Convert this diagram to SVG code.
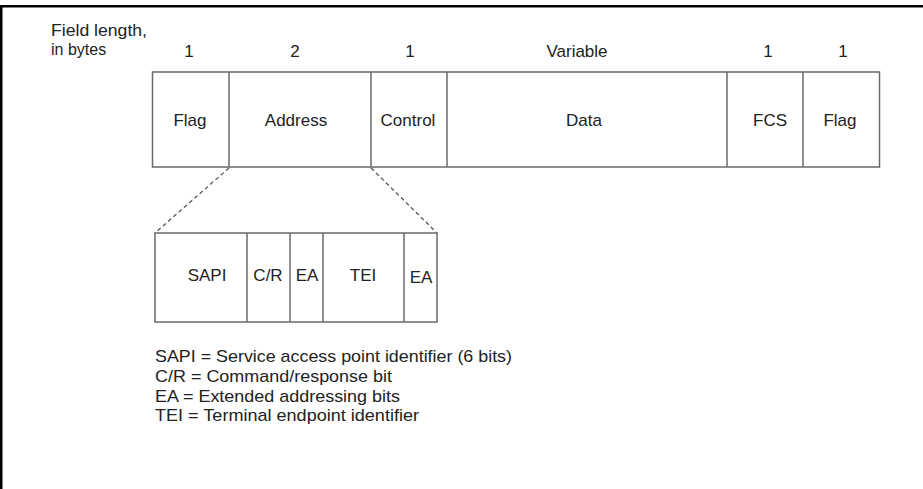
<svg xmlns="http://www.w3.org/2000/svg" width="923" height="489" viewBox="0 0 923 489">
<style>
text{font-family:"Liberation Sans",Arial,sans-serif;font-size:17px;fill:#222}
.c{text-anchor:middle}
.hd{font-size:16px}
.box{fill:#fff;stroke:#6a6a6a;stroke-width:1.5}
.div{stroke:#6a6a6a;stroke-width:1.5}
.dash{stroke:#555;stroke-width:1.3;stroke-dasharray:4 3;fill:none}
</style>
<rect width="923" height="489" fill="#fff"/>
<path d="M1.2 489V6.2H923" fill="none" stroke="#000" stroke-width="2.6"/>
<g id="header">
<text class="hd" x="51" y="36" textLength="96" lengthAdjust="spacingAndGlyphs">Field length,</text>
<text class="hd" x="51" y="55">in bytes</text>
<text class="c" x="189" y="57">1</text>
<text class="c" x="295" y="57">2</text>
<text class="c" x="410" y="57">1</text>
<text class="c" x="577" y="57">Variable</text>
<text class="c" x="768" y="57">1</text>
<text class="c" x="843" y="57">1</text>
</g>
<g id="frame">
<rect class="box" x="152.5" y="72" width="727" height="95"/>
<g id="flag1"><text class="c" x="190" y="126">Flag</text></g>
<g id="address"><line class="div" x1="229" y1="72" x2="229" y2="167"/><text class="c" x="296" y="126">Address</text></g>
<g id="control"><line class="div" x1="371" y1="72" x2="371" y2="167"/><text class="c" x="408" y="126">Control</text></g>
<g id="data"><line class="div" x1="447" y1="72" x2="447" y2="167"/><text class="c" x="584" y="126">Data</text></g>
<g id="fcs"><line class="div" x1="727" y1="72" x2="727" y2="167"/><text class="c" x="770" y="126">FCS</text></g>
<g id="flag2"><line class="div" x1="803" y1="72" x2="803" y2="167"/><text class="c" x="840" y="126">Flag</text></g>
</g>
<g id="connectors">
<line class="dash" x1="229" y1="168" x2="155" y2="233"/>
<line class="dash" x1="371" y1="168" x2="437" y2="233"/>
</g>
<g id="addressfield">
<rect class="box" x="155" y="233" width="282" height="89"/>
<g id="sapi"><text class="c" x="207" y="281">SAPI</text></g>
<g id="cr"><line class="div" x1="247" y1="233" x2="247" y2="322"/><text class="c" x="268" y="281">C/R</text></g>
<g id="ea1"><line class="div" x1="290" y1="233" x2="290" y2="322"/><text class="c" x="307" y="281">EA</text></g>
<g id="tei"><line class="div" x1="323" y1="233" x2="323" y2="322"/><text class="c" x="363" y="281">TEI</text></g>
<g id="ea2"><line class="div" x1="404" y1="233" x2="404" y2="322"/><text class="c" x="421" y="283">EA</text></g>
</g>
<g id="legend">
<text x="155" y="362" textLength="357" lengthAdjust="spacingAndGlyphs">SAPI = Service access point identifier (6 bits)</text>
<text x="155" y="382" textLength="237" lengthAdjust="spacingAndGlyphs">C/R = Command/response bit</text>
<text x="155" y="402" textLength="245" lengthAdjust="spacingAndGlyphs">EA = Extended addressing bits</text>
<text x="155" y="421" textLength="264" lengthAdjust="spacingAndGlyphs">TEI = Terminal endpoint identifier</text>
</g>
</svg>
